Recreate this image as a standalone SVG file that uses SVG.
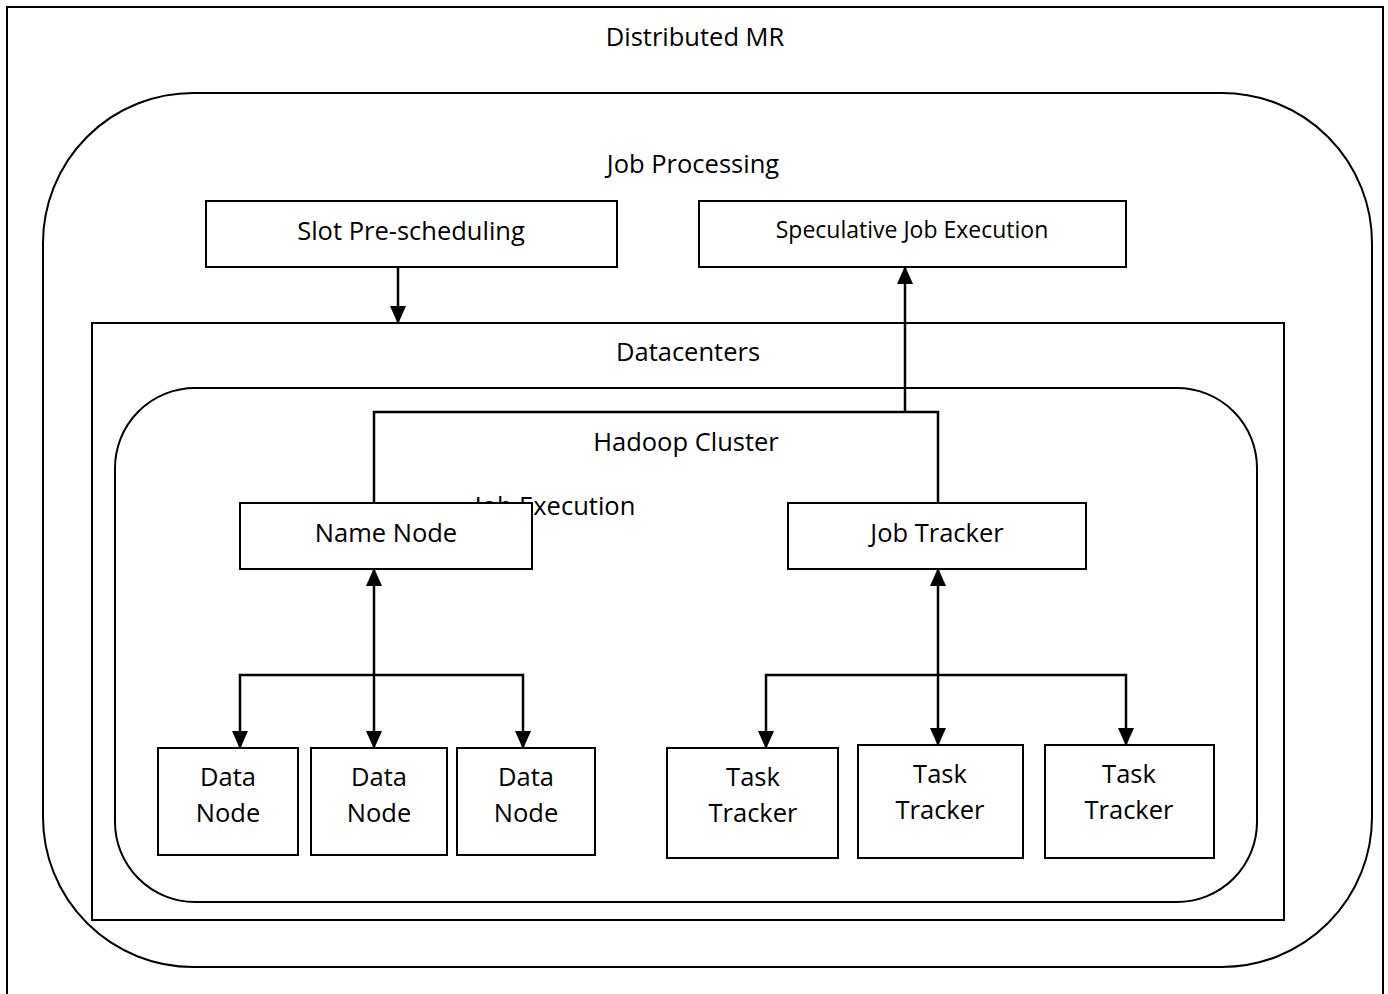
<svg xmlns="http://www.w3.org/2000/svg" width="1388" height="994" viewBox="0 0 1388 994">
<defs>
<marker id="ah" viewBox="0 0 18 16" refX="17" refY="8" markerWidth="18" markerHeight="16" markerUnits="userSpaceOnUse" orient="auto-start-reverse">
<path d="M0,0 L18,8 L0,16 z" fill="#000"/>
</marker>
<style>
.box{fill:#fff;stroke:#000;stroke-width:2}
.cont{fill:none;stroke:#000;stroke-width:2}
.ln{fill:none;stroke:#000;stroke-width:2.5}
text{font-family:"Open Sans","Liberation Sans",sans-serif;font-size:25.5px;fill:#000;text-anchor:middle}
.sm{font-size:23px}
</style>
</defs>
<rect width="1388" height="994" fill="#fff"/>
<g id="distributed-mr">
<rect class="cont" x="7" y="7" width="1376" height="1000"/>
<text x="695" y="46">Distributed MR</text>
</g>
<g id="job-processing">
<rect class="cont" x="43" y="93" width="1329" height="874" rx="150" ry="150"/>
<text x="693" y="173">Job Processing</text>
</g>
<g id="slot-pre-scheduling">
<rect class="box" x="206" y="201" width="411" height="66"/>
<text x="411" y="240">Slot Pre-scheduling</text>
</g>
<g id="speculative-job-execution">
<rect class="box" x="699" y="201" width="427" height="66"/>
<text class="sm" x="912" y="238">Speculative Job Execution</text>
</g>
<g id="datacenters">
<rect class="cont" x="92" y="323" width="1192" height="597"/>
<text x="688" y="361">Datacenters</text>
</g>
<g id="hadoop-cluster">
<rect class="cont" x="115" y="388" width="1142" height="514" rx="80" ry="80"/>
<text x="686" y="451">Hadoop Cluster</text>
</g>
<g id="job-execution">
<text x="555" y="515">Job Execution</text>
</g>
<g id="connectors">
<path class="ln" d="M398,267 V323" marker-end="url(#ah)"/>
<path class="ln" d="M374,503 V412 H938 V503"/>
<path class="ln" d="M905,412 V267" marker-end="url(#ah)"/>
<path class="ln" d="M374,569 V748" marker-start="url(#ah)" marker-end="url(#ah)"/>
<path class="ln" d="M240,748 V675 H523 V748" marker-start="url(#ah)" marker-end="url(#ah)"/>
<path class="ln" d="M938,569 V745" marker-start="url(#ah)" marker-end="url(#ah)"/>
<path class="ln" d="M766,748 V675 H1126 V745" marker-start="url(#ah)" marker-end="url(#ah)"/>
</g>
<g id="name-node">
<rect class="box" x="240" y="503" width="292" height="66"/>
<text x="386" y="542">Name Node</text>
</g>
<g id="job-tracker">
<rect class="box" x="788" y="503" width="298" height="66"/>
<text x="937" y="542">Job Tracker</text>
</g>
<g id="data-node-1">
<rect class="box" x="158" y="748" width="140" height="107"/>
<text x="228" y="786">Data</text><text x="228" y="822">Node</text>
</g>
<g id="data-node-2">
<rect class="box" x="311" y="748" width="136" height="107"/>
<text x="379" y="786">Data</text><text x="379" y="822">Node</text>
</g>
<g id="data-node-3">
<rect class="box" x="457" y="748" width="138" height="107"/>
<text x="526" y="786">Data</text><text x="526" y="822">Node</text>
</g>
<g id="task-tracker-1">
<rect class="box" x="667" y="748" width="171" height="110"/>
<text x="753" y="786">Task</text><text x="753" y="822">Tracker</text>
</g>
<g id="task-tracker-2">
<rect class="box" x="858" y="745" width="165" height="113"/>
<text x="940" y="783">Task</text><text x="940" y="819">Tracker</text>
</g>
<g id="task-tracker-3">
<rect class="box" x="1045" y="745" width="169" height="113"/>
<text x="1129" y="783">Task</text><text x="1129" y="819">Tracker</text>
</g>
</svg>
